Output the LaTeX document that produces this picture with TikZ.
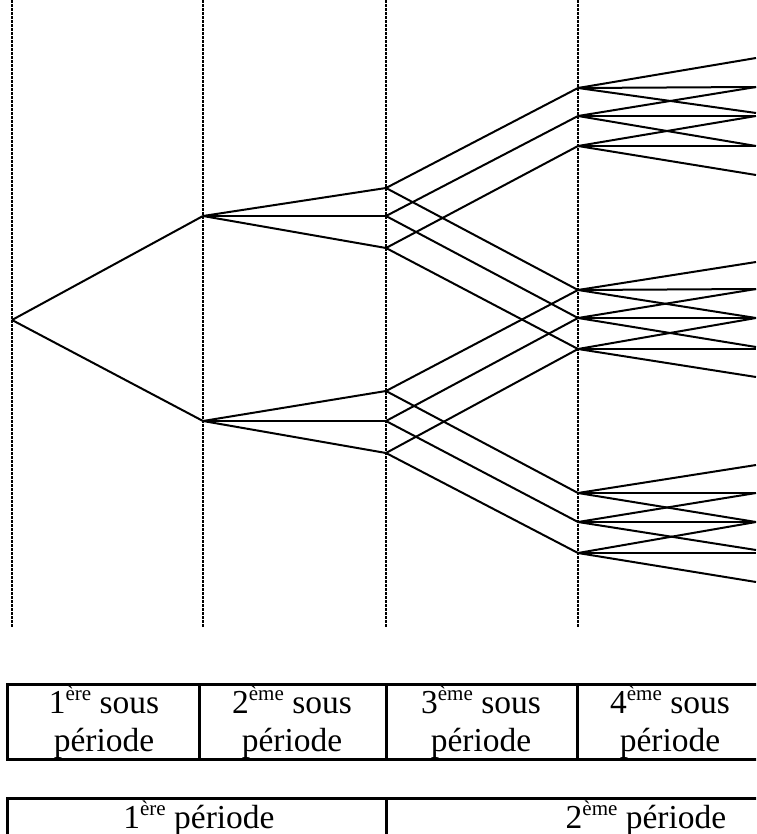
\documentclass[tikz,border=0pt]{standalone}
\usepackage{fontspec}
\setmainfont{Liberation Serif}
\newcommand\mysup[1]{\raisebox{13pt}{\fontsize{21}{21}\selectfont #1}}
\begin{document}
\begin{tikzpicture}[x=1pt,y=-1pt,
  vline/.style={line width=2.2pt,dash pattern=on 3pt off 1pt},
  branch/.style={line width=2pt,line join=round},
  tbl/.style={line width=3pt},
  lbl/.style={font=\fontsize{33.5}{38}\selectfont,anchor=base,inner sep=0pt}]
\useasboundingbox (0,0) rectangle (756,834);
\clip (0,0) rectangle (756,834);

% vertical dotted period separators
\foreach \x/\n in {12/v0,203/v1,386/v2,578/v3}{
  \coordinate (\n t) at (\x,0);
  \coordinate (\n b) at (\x,627);
  \draw[vline] (\n t) -- (\n b);
}

% tree nodes
\coordinate (r) at (12,320);
\coordinate (a1) at (203,216);
\coordinate (a2) at (203,421);
\foreach \y/\n in {188/b1,216/b2,248/b3,391/b4,421/b5,453/b6}{\coordinate (\n) at (386,\y);}
\foreach \y/\n in {88/c1,116/c2,146/c3,290/c4,318/c5,349/c6,493/c7,522/c8,553/c9}{\coordinate (\n) at (578,\y);}

% right-edge end points
\foreach \y/\n in {58/e1,87/e2,113/e3,116/e4,146/e5,175/e6,
                   262/e7,289/e8,318/e9,347/e10,349/e11,377/e12,
                   465/e13,493/e14,522/e15,550/e16,553/e17,582/e18}{\coordinate (\n) at (756,\y);}

% level 0 -> 1
\draw[branch] (r) -- (a1);
\draw[branch] (r) -- (a2);
% level 1 -> 2
\foreach \s/\t in {a1/b1,a1/b2,a1/b3,a2/b4,a2/b5,a2/b6}{\draw[branch] (\s) -- (\t);}
% level 2 -> 3
\foreach \s/\t in {b1/c1,b2/c2,b3/c3,b1/c4,b2/c5,b3/c6,
                   b4/c4,b5/c5,b6/c6,b4/c7,b5/c8,b6/c9}{\draw[branch] (\s) -- (\t);}
% level 3 -> 4
\foreach \s/\t in {c1/e1,c1/e2,c1/e3,c2/e2,c2/e4,c2/e5,c3/e4,c3/e5,c3/e6,
                   c4/e7,c4/e8,c4/e9,c5/e8,c5/e9,c5/e10,c6/e9,c6/e11,c6/e12,
                   c7/e13,c7/e14,c7/e15,c8/e14,c8/e15,c8/e16,c9/e15,c9/e17,c9/e18}{\draw[branch] (\s) -- (\t);}

% first table (sub-periods)
\coordinate (ta) at (7,684);
\coordinate (tb) at (763,759);
\draw[tbl] (ta) rectangle (tb);
\foreach \x/\n in {199/s1,386/s2,577/s3}{
  \coordinate (\n t) at (\x,684);
  \coordinate (\n b) at (\x,759);
  \draw[tbl] (\n t) -- (\n b);
}
\node[lbl] (p1a) at (104,713) {1\mysup{ère} sous};
\node[lbl] (p1b) at (104,751) {période};
\node[lbl] (p2a) at (292,713) {2\mysup{ème} sous};
\node[lbl] (p2b) at (292,751) {période};
\node[lbl] (p3a) at (481,713) {3\mysup{ème} sous};
\node[lbl] (p3b) at (481,751) {période};
\node[lbl] (p4a) at (670,713) {4\mysup{ème} sous};
\node[lbl] (p4b) at (670,751) {période};

% second table (periods)
\coordinate (ua) at (7,798);
\coordinate (ub) at (907,870);
\draw[tbl] (ua) rectangle (ub);
\coordinate (m1t) at (386,798);
\coordinate (m1b) at (386,870);
\draw[tbl] (m1t) -- (m1b);
\node[lbl] (q1) at (199,828) {1\mysup{ère} période};
\node[lbl] (q2) at (646,828) {2\mysup{ème} période};
\end{tikzpicture}
\end{document}
